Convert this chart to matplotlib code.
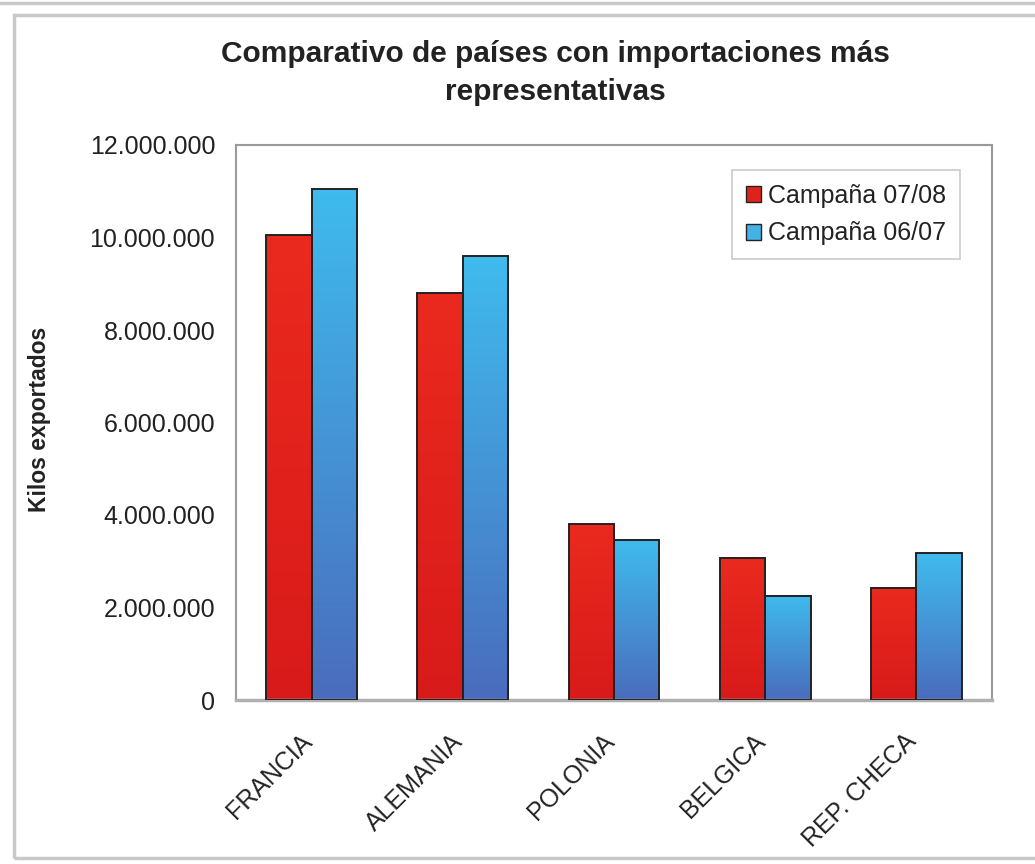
import numpy as np
import matplotlib
matplotlib.use("Agg")
import matplotlib.pyplot as plt
from matplotlib.colors import LinearSegmentedColormap
from matplotlib.patches import Rectangle, Patch
from matplotlib.ticker import FuncFormatter
from matplotlib.transforms import ScaledTranslation

plt.rcParams['font.family'] = ['Liberation Sans', 'DejaVu Sans']

# Data
paises = ["FRANCIA", "ALEMANIA", "POLONIA", "BELGICA", "REP. CHECA"]
campana_0708 = [10050000, 8790000, 3800000, 3060000, 2430000]
campana_0607 = [11040000, 9600000, 3460000, 2250000, 3170000]
y_ticks = [0, 2000000, 4000000, 6000000, 8000000, 10000000, 12000000]

fig = plt.figure(figsize=(10.35, 8.64), dpi=100)
fig.patch.set_facecolor("white")

# outer chart frame
fig.patches.append(Rectangle((14 / 1035, 1 - 858 / 864), 1.2, (858 - 15) / 864,
                             transform=fig.transFigure, fill=False,
                             edgecolor="#c8c8c8", linewidth=2.5))
fig.patches.append(Rectangle((-0.1, 1 - 3 / 864), 1.2, 0.1,
                             transform=fig.transFigure, fill=False,
                             edgecolor="#c8c8c8", linewidth=2.5))

ax = fig.add_axes([236 / 1035, 1 - 700 / 864, 756 / 1035, 555 / 864])

# gradient colour maps (bottom -> top)
red_cmap = LinearSegmentedColormap.from_list("red", ["#d81a1a", "#ea2a1e"])
blue_cmap = LinearSegmentedColormap.from_list("blue", ["#4a6cbc", "#3fbbee"])
grad = np.linspace(0, 1, 256).reshape(-1, 1)

x = np.arange(len(paises))
w = 0.3
for vals, offs, cmap in [(campana_0708, -w / 2, red_cmap), (campana_0607, w / 2, blue_cmap)]:
    bars = ax.bar(x + offs, vals, width=w, fill=False, edgecolor="#222222",
                  linewidth=1.4, zorder=3)
    for b in bars:
        x0 = b.get_x()
        ax.imshow(grad, extent=[x0, x0 + b.get_width(), 0, b.get_height()],
                  origin="lower", aspect="auto", cmap=cmap, zorder=2)

ax.set_xlim(-0.5, len(paises) - 0.5)
ax.set_ylim(0, 12000000)
ax.set_yticks(y_ticks)
ax.yaxis.set_major_formatter(FuncFormatter(lambda v, p: f"{int(v):,}".replace(",", ".")))
ax.set_xticks(x)
ax.set_xticklabels(paises, rotation=45, ha="right", rotation_mode="anchor")
ax.tick_params(axis="both", length=0, labelsize=18, colors="#222222")
ax.tick_params(axis="y", pad=15)
ax.tick_params(axis="x", pad=14)
shift = ScaledTranslation(-0.12, -0.1, fig.dpi_scale_trans)
for lab in ax.get_xticklabels():
    lab.set_transform(lab.get_transform() + shift)

for s in ax.spines.values():
    s.set_color("#9a9a9a")
    s.set_linewidth(1.5)
ax.spines["bottom"].set_color("#b0b0b0")
ax.spines["bottom"].set_linewidth(2.5)

fig.text(40 / 1035, 1 - 419 / 864, "Kilos exportados", rotation=90,
         ha="center", va="center", fontsize=16.5, fontweight="bold", color="#222222")

fig.text(555 / 1035, 1 - 73 / 864,
         "Comparativo de países con importaciones más\nrepresentativas",
         ha="center", va="center", fontsize=21.5, fontweight="bold",
         linespacing=1.45, color="#222222")

handles = [Patch(facecolor="#e0221c", edgecolor="#222222", label="Campaña 07/08"),
           Patch(facecolor="#45b2e6", edgecolor="#222222", label="Campaña 06/07")]
leg = ax.legend(handles=handles, loc="upper right", bbox_to_anchor=(0.958, 0.955),
                fontsize=18, frameon=True, fancybox=False, handlelength=0.6,
                handleheight=0.6, handletextpad=0.3, borderpad=0.55,
                labelspacing=0.55, borderaxespad=0)
leg.get_frame().set_edgecolor("#bdbdbd")
leg.get_frame().set_linewidth(1.2)
for t in leg.get_texts():
    t.set_color("#222222")

fig.savefig("out.png", dpi=100)
